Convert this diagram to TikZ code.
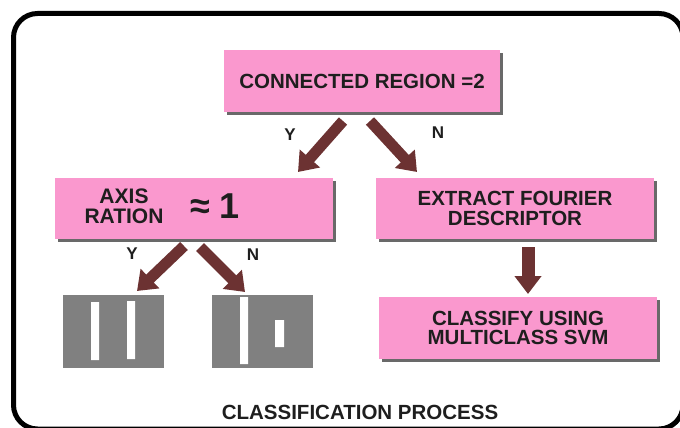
\documentclass[tikz,border=0pt]{standalone}
\usepackage{fontspec}
\setmainfont{Liberation Sans}
\usetikzlibrary{arrows.meta,shadows}
\definecolor{boxpink}{RGB}{250,152,206}
\definecolor{arrowbrown}{RGB}{108,50,50}
\definecolor{shadowgray}{RGB}{105,105,105}
\definecolor{picgray}{RGB}{128,128,128}
\definecolor{inkblack}{RGB}{30,30,30}
\tikzset{
  stepbox/.style={fill=boxpink, inner sep=0pt, minimum width=278pt, minimum height=61pt,
    align=center, text=inkblack, font=\bfseries\fontsize{20.5}{19.5}\selectfont,
    drop shadow={shadow xshift=3pt, shadow yshift=-3pt, fill=shadowgray, opacity=1}},
  fat/.style={draw=arrowbrown, line width=11pt, -{Triangle[width=26pt,length=18pt]}},
  yn/.style={text=inkblack, font=\bfseries\fontsize{17}{17}\selectfont},
  picbox/.style={fill=picgray, inner sep=0pt, minimum width=101pt, minimum height=73pt},
  bar/.style={fill=white},
}
\begin{document}
\begin{tikzpicture}[x=1pt,y=-1pt]
    \useasboundingbox (0,0) rectangle (680,428);
    \draw[line width=5pt, rounded corners=24pt] (13.5,13.5) rectangle (683,429);

    \node[stepbox, minimum width=276pt, minimum height=62pt] (region) at (362,81) {CONNECTED REGION =2};
    \node[stepbox] (axis) at (194,208.5) {};
    \node[align=center, text=inkblack, font=\bfseries\fontsize{21}{20}\selectfont] (axistxt) at (124,206) {AXIS\\RATION};
    \node[text=inkblack, font=\bfseries\fontsize{36}{36}\selectfont] (approx) at (215,206) {≈ 1};
    \node[stepbox] (fourier) at (515,208.5) {EXTRACT FOURIER\\DESCRIPTOR};
    \node[stepbox, minimum height=62pt] (svm) at (518,328) {CLASSIFY USING\\MULTICLASS SVM};

    \node[picbox] (twobars) at (113.5,331.5) {};
    \node[picbox] (onebar) at (262.5,331.5) {};
    \fill[bar] (91,302) rectangle (99,360) (127,301) rectangle (135,359);
    \fill[bar] (240,297) rectangle (248,364) (275,320) rectangle (284,347);

    \node[yn] (y1) at (290,135) {Y};
    \node[yn] (n1) at (438,133) {N};
    \node[yn] (y2) at (132,254) {Y};
    \node[yn] (n2) at (253,255) {N};

    \coordinate (ys1) at (343,121);
    \coordinate (ye1) at (298,172);
    \coordinate (ns1) at (370,121);
    \coordinate (ne1) at (417,172);
    \coordinate (ds) at (528,247);
    \coordinate (de) at (528,294);
    \coordinate (ys2) at (184,246);
    \coordinate (ye2) at (137,291);
    \coordinate (ns2) at (200,247);
    \coordinate (ne2) at (245,292);
    \draw[fat] (ys1) -- (ye1);
    \draw[fat] (ns1) -- (ne1);
    \draw[fat, line width=13pt] (ds) -- (de);
    \draw[fat] (ys2) -- (ye2);
    \draw[fat] (ns2) -- (ne2);

    \node[text=inkblack, font=\bfseries\fontsize{20.5}{20.5}\selectfont] (title) at (360,412) {CLASSIFICATION PROCESS};
\end{tikzpicture}
\end{document}
